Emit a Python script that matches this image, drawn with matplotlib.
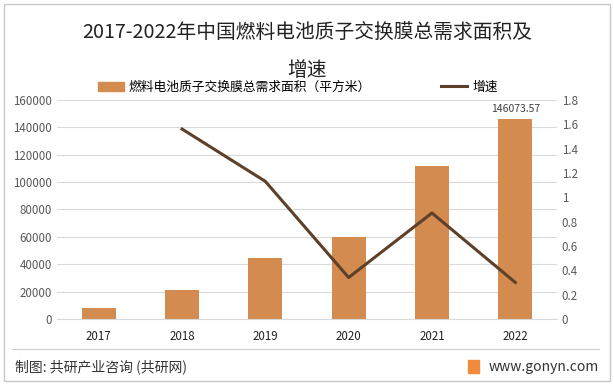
import matplotlib.pyplot as plt
from matplotlib.patches import Rectangle
from matplotlib.lines import Line2D

plt.rcParams['font.family'] = ['Noto Sans CJK SC', 'DejaVu Sans']

years = ['2017', '2018', '2019', '2020', '2021', '2022']
area = [8200, 21000, 44700, 59900, 112000, 146073.57]
growth = [None, 1.56, 1.13, 0.34, 0.87, 0.30]

bar_color = '#D38B4F'
line_color = '#5E4029'

fig = plt.figure(figsize=(6.14, 3.87), dpi=100)
ax = fig.add_axes([0.093, 0.176, 0.814, 0.566])
ax2 = ax.twinx()

x = list(range(len(years)))
ax.bar(x, area, width=0.41, color=bar_color, zorder=2)
ax.text(x[-1], area[-1] + 3500, '146073.57', ha='center', va='bottom', fontsize=7.5, color='#404040')

gx = [i for i, g in zip(x, growth) if g is not None]
gy = [g for g in growth if g is not None]
ax2.plot(gx, gy, color=line_color, lw=2.2, zorder=3)

ax.set_xlim(-0.5, len(years) - 0.5)
ax.set_ylim(0, 160000)
ax.set_yticks(range(0, 160001, 20000))
ax2.set_ylim(0, 1.8)
ax2.set_yticks([0, 0.2, 0.4, 0.6, 0.8, 1, 1.2, 1.4, 1.6, 1.8])
ax2.set_yticklabels(['0', '0.2', '0.4', '0.6', '0.8', '1', '1.2', '1.4', '1.6', '1.8'])
ax.set_xticks(x)
ax.set_xticklabels(years)

ax.grid(axis='y', color='#D9D9D9', lw=0.8, zorder=0)
for a in (ax, ax2):
    for s in a.spines.values():
        s.set_visible(False)
    a.tick_params(length=0, labelsize=8.3, colors='#595959')
ax.tick_params(axis='x', colors='#222222', pad=8)
ax.spines['bottom'].set_visible(True)
ax.spines['bottom'].set_color('#D9D9D9')

fig.text(0.5, 0.915, '2017-2022年中国燃料电池质子交换膜总需求面积及', ha='center', va='center', fontsize=14.2, color='#222222')
fig.text(0.5, 0.818, '增速', ha='center', va='center', fontsize=14.2, color='#222222')

handles = [Rectangle((0, 0), 1, 1, color=bar_color), Line2D([0], [0], color=line_color, lw=2.2)]
fig.legend(handles, ['燃料电池质子交换膜总需求面积（平方米）', '增速'], loc='center', bbox_to_anchor=(0.485, 0.775),
           ncol=2, frameon=False, fontsize=9.2, handlelength=2.0, columnspacing=5.5, handletextpad=0.4)

# frame and footer
fig.add_artist(Rectangle((0.007, 0.015), 0.986, 0.975, transform=fig.transFigure, fill=False, ec='#C8C8C8', lw=1))
fig.add_artist(Line2D([0.02, 0.975], [0.098, 0.098], transform=fig.transFigure, color='#D0D0D0', lw=0.8))
fig.text(0.025, 0.052, '制图: 共研产业咨询 (共研网)', ha='left', va='center', fontsize=10, color='#333333')
fig.add_artist(Rectangle((0.762, 0.036), 0.018, 0.035, transform=fig.transFigure, color='#F08A3C'))
fig.text(0.975, 0.052, 'www.gonyn.com', ha='right', va='center', fontsize=10, color='#333333')

fig.savefig('out.png', dpi=100)
